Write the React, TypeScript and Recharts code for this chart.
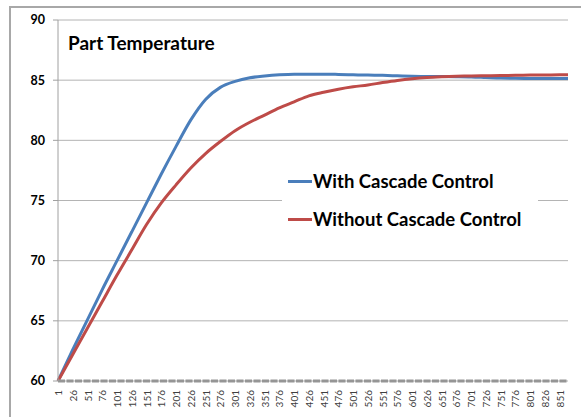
import { LineChart, Line, XAxis, YAxis, CartesianGrid } from "recharts";

// sample index (every 25th sample, plus the last one)
const samples = [
  1, 26, 51, 76, 101, 126, 151, 176, 201, 226, 251, 276, 301, 326, 351, 376,
  401, 426, 451, 476, 501, 526, 551, 576, 601, 626, 651, 676, 701, 726, 751,
  776, 801, 826, 851, 865,
];

const withCascade = [
  60, 62.6, 65.1, 67.6, 70.0, 72.4, 74.8, 77.2, 79.5, 81.7, 83.4, 84.4, 84.9,
  85.2, 85.35, 85.45, 85.5, 85.5, 85.5, 85.48, 85.45, 85.42, 85.4, 85.36,
  85.32, 85.3, 85.3, 85.29, 85.27, 85.22, 85.17, 85.15, 85.14, 85.13, 85.13,
  85.13,
];

const withoutCascade = [
  60, 62.2, 64.4, 66.6, 68.8, 70.9, 73.0, 74.8, 76.3, 77.7, 78.9, 79.9, 80.8,
  81.5, 82.1, 82.7, 83.2, 83.7, 84.0, 84.25, 84.45, 84.6, 84.8, 84.98, 85.12,
  85.22, 85.28, 85.32, 85.35, 85.37, 85.39, 85.4, 85.42, 85.43, 85.45, 85.45,
];

const seriesNames = ["With Cascade Control", "Without Cascade Control"];
const seriesColors = ["#4a7ebb", "#be4b48"];

const xTicks = samples.slice(0, 35);
const yTicks = [60, 65, 70, 75, 80, 85, 90];

const data = samples.map((t, i) => ({
  t,
  withCascade: withCascade[i],
  withoutCascade: withoutCascade[i],
}));

const FONT = "Lato, 'Open Sans', sans-serif";

function RotatedTick(props: any) {
  const { x, y, payload } = props;
  return (
    <text
      x={x}
      y={y + 1}
      transform={`rotate(-90 ${x} ${y + 1})`}
      textAnchor="end"
      dominantBaseline="central"
      fontSize={10}
      fontFamily={FONT}
      fill="#404040"
    >
      {payload.value}
    </text>
  );
}

export default function App() {
  return (
    <div
      style={{
        position: "absolute",
        left: 0,
        top: 0,
        width: 581,
        height: 417,
        overflow: "hidden",
        background: "#fff",
      }}
    >
      <div
        style={{
          position: "absolute",
          left: 9,
          top: 6,
          width: 700,
          height: 600,
          border: "2px solid #a8a8a8",
        }}
      />
      <div style={{ position: "absolute", left: 0, top: 0 }}>
        <LineChart
          width={581}
          height={417}
          data={data}
          margin={{ top: 20, right: 13, left: 8, bottom: 6 }}
        >
          <CartesianGrid vertical={false} stroke="#b4b4b4" />
          <XAxis
            dataKey="t"
            type="number"
            domain={[1, 865]}
            ticks={xTicks}
            interval={0}
            height={30}
            tick={<RotatedTick />}
            tickLine={false}
            axisLine={{ stroke: "#959595", strokeWidth: 3, strokeDasharray: "7 1.5" }}
          />
          <YAxis
            domain={[60, 90]}
            ticks={yTicks}
            width={50}
            tickSize={5}
            tickMargin={8}
            tickLine={{ stroke: "#a0a0a0" }}
            axisLine={{ stroke: "#a0a0a0" }}
            tick={{ fill: "#000", fontSize: 12.5, fontWeight: 700, fontFamily: FONT }}
          />
          <Line
            name={seriesNames[0]}
            type="monotone"
            dataKey="withCascade"
            stroke={seriesColors[0]}
            strokeWidth={3}
            dot={false}
            isAnimationActive={false}
          />
          <Line
            name={seriesNames[1]}
            type="monotone"
            dataKey="withoutCascade"
            stroke={seriesColors[1]}
            strokeWidth={3}
            dot={false}
            isAnimationActive={false}
          />
        </LineChart>
      </div>
      <div
        style={{
          position: "absolute",
          left: 68,
          top: 31,
          fontFamily: FONT,
          fontWeight: 700,
          fontSize: 19,
          color: "#000",
        }}
      >
        Part Temperature
      </div>
      <div
        style={{
          position: "absolute",
          left: 282,
          top: 162,
          width: 250,
          background: "#fff",
          padding: "0 0 0 6px",
        }}
      >
        {seriesNames.map((name, i) => (
          <div
            key={name}
            style={{
              display: "flex",
              alignItems: "center",
              height: 38,
              fontFamily: FONT,
              fontWeight: 700,
              fontSize: 18.5,
              color: "#000",
            }}
          >
            <span
              style={{
                display: "inline-block",
                width: 24,
                height: 3,
                background: seriesColors[i],
                marginRight: 1,
              }}
            />
            {name}
          </div>
        ))}
      </div>
    </div>
  );
}
